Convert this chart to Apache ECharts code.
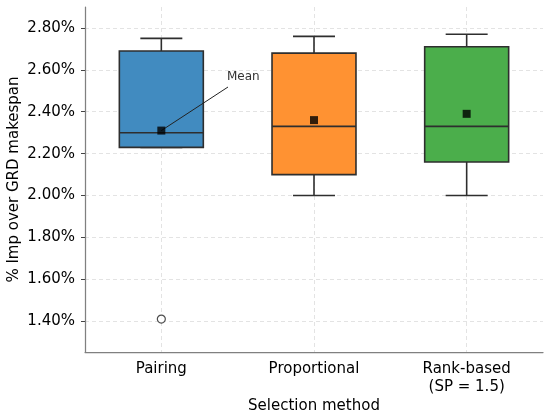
<!DOCTYPE html>
<html lang="en">
<head>
  <meta charset="UTF-8">
  <script src="https://cdn.jsdelivr.net/npm/echarts@6.0.0/dist/echarts.min.js"></script>
  <style>
    html, body { margin: 0; padding: 0; background: #fff; }
  </style>
</head>
<body>
  <div id="main" style="width: 550px;height:417px;"></div>
  <script type="text/javascript">

    // categories
    const methods = ['Pairing', 'Proportional', 'Rank-based\n(SP = 1.5)'];
    // five-number summaries [min, q1, median, q3, max] in %
    const boxStats = [
      [2.23, 2.23, 2.30, 2.69, 2.75],
      [2.00, 2.10, 2.33, 2.68, 2.76],
      [2.00, 2.16, 2.33, 2.71, 2.77]
    ];
    const means = [2.31, 2.36, 2.39];
    // outliers [category index, value]
    const outliers = [[0, 1.41]];
    const yTicks = [1.40, 1.60, 1.80, 2.00, 2.20, 2.40, 2.60, 2.80];

    const fills = ['#418bc0', '#ff9232', '#4bae4b'];
    const edge = '#2e2e2e';
    const font = 'DejaVu Sans';

    const chart = echarts.init(document.getElementById('main'));

    function renderBox(params, api) {
      const i = api.value(0);
      const band = api.size([1, 0])[0];
      const w = band * 0.55;
      const cap = w / 2;
      const pMin = api.coord([i, api.value(1)]);
      const pQ1 = api.coord([i, api.value(2)]);
      const pMed = api.coord([i, api.value(3)]);
      const pQ3 = api.coord([i, api.value(4)]);
      const pMax = api.coord([i, api.value(5)]);
      const cx = pMed[0];
      const line = { stroke: edge, lineWidth: 1.6 };
      return {
        type: 'group',
        children: [
          { type: 'line', shape: { x1: cx, y1: pQ3[1], x2: cx, y2: pMax[1] }, style: line },
          { type: 'line', shape: { x1: cx, y1: pQ1[1], x2: cx, y2: pMin[1] }, style: line },
          { type: 'line', shape: { x1: cx - cap / 2, y1: pMax[1], x2: cx + cap / 2, y2: pMax[1] }, style: line },
          { type: 'line', shape: { x1: cx - cap / 2, y1: pMin[1], x2: cx + cap / 2, y2: pMin[1] }, style: line },
          {
            type: 'rect',
            shape: { x: cx - w / 2, y: pQ3[1], width: w, height: pQ1[1] - pQ3[1] },
            style: { fill: fills[params.dataIndex], stroke: edge, lineWidth: 1.6 }
          },
          { type: 'line', shape: { x1: cx - w / 2, y1: pMed[1], x2: cx + w / 2, y2: pMed[1] }, style: line }
        ]
      };
    }

    chart.setOption({
      animation: false,
      backgroundColor: '#fff',
      textStyle: { fontFamily: font },
      grid: { left: 85, right: 7, top: 7, bottom: 65, containLabel: false, outerBoundsMode: 'none' },
      xAxis: {
        type: 'category',
        data: methods,
        name: 'Selection method',
        nameLocation: 'middle',
        nameGap: 47,
        nameMoveOverlap: false,
        nameTextStyle: { fontSize: 15, color: '#000', fontFamily: font },
        axisLine: { lineStyle: { color: '#808080', width: 1.25 } },
        axisTick: { alignWithLabel: true, length: 4, lineStyle: { color: '#444' } },
        axisLabel: { fontSize: 15, color: '#000', margin: 8, lineHeight: 18, fontFamily: font, interval: 0 },
        splitLine: { show: true, alignWithLabel: true, lineStyle: { color: '#dcdcdc', type: [4, 3], width: 0.8 } }
      },
      yAxis: {
        type: 'value',
        min: 1.253,
        max: 2.90,
        name: '% Imp over GRD makespan',
        nameLocation: 'middle',
        nameGap: 63,
        nameMoveOverlap: false,
        nameTextStyle: { fontSize: 15, color: '#000', fontFamily: font },
        axisLine: { show: true, lineStyle: { color: '#808080', width: 1.25 } },
        axisTick: { show: true, length: 4, customValues: yTicks, lineStyle: { color: '#444' } },
        axisLabel: {
          fontSize: 15, color: '#000', margin: 10, fontFamily: font,
          customValues: yTicks,
          formatter: v => v.toFixed(2) + '%'
        },
        splitLine: { show: true, lineStyle: { color: '#dcdcdc', type: [4, 3], width: 0.8 } }
      },
      graphic: [{
        type: 'text',
        left: 227,
        top: 71,
        style: { text: 'Mean', fontSize: 12, fill: '#333', fontFamily: font }
      }],
      series: [
        {
          name: 'box',
          type: 'custom',
          renderItem: renderBox,
          encode: { x: 0, y: [1, 2, 3, 4, 5] },
          data: boxStats.map((s, i) => [i].concat(s)),
          z: 2
        },
        {
          name: 'mean',
          type: 'scatter',
          symbol: 'rect',
          symbolSize: 8,
          itemStyle: { color: '#000' },
          data: means.map((m, i) => [i, m]),
          z: 5,
          markLine: {
            silent: true,
            symbol: ['none', 'none'],
            label: { show: false },
            lineStyle: { color: '#222', width: 1, type: 'solid' },
            data: [[{ coord: [0, means[0]] }, { x: 228, y: 87 }]]
          }
        },
        {
          name: 'outlier',
          type: 'scatter',
          symbol: 'circle',
          symbolSize: 8,
          itemStyle: { color: '#fff', borderColor: '#222', borderWidth: 1.2 },
          data: outliers,
          z: 5
        }
      ]
    });

  </script>
</body>
</html>
